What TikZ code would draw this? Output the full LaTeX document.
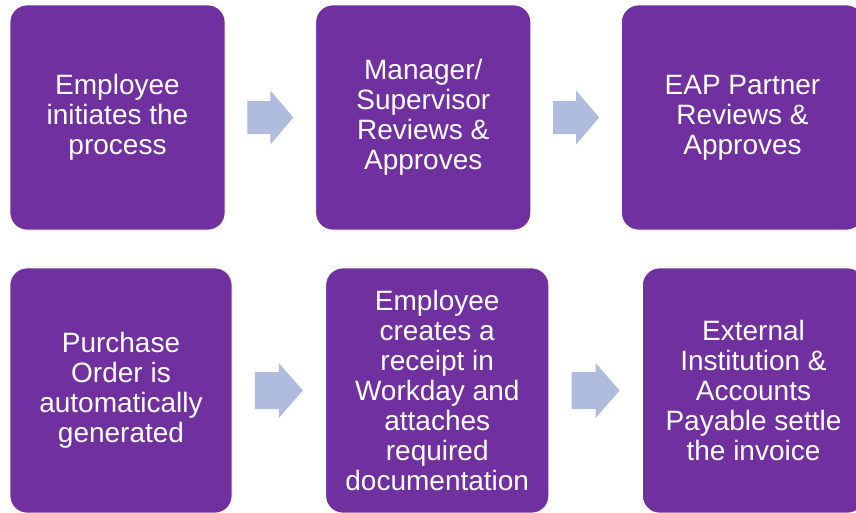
\documentclass[tikz,border=0pt]{standalone}
\usepackage{fontspec}
\setmainfont{Liberation Sans}
\usetikzlibrary{positioning}

\definecolor{stepviolet}{RGB}{112,48,160}
\definecolor{arrowblue}{RGB}{175,188,222}

\tikzset{
  stepbox/.style={rectangle, rounded corners=17pt, fill=stepviolet, draw=white, line width=0.75pt,
    text=white, align=center, inner sep=0pt, font=\fontsize{28}{30}\selectfont},
  pics/steparrow/.style args={#1/#2/#3}{code={
    \fill[arrowblue] (-#1,-#2) -- (0,-#2) -- (0,-#3) -- (#1,0) -- (0,#3) -- (0,#2) -- (-#1,#2) -- cycle;
  }}
}

\begin{document}
\begin{tikzpicture}[
        x=1pt, y=-1pt,
        node distance=90pt,
        top step/.style={stepbox, minimum height=225pt},
        low step/.style={stepbox, minimum height=245pt}
      ]
      \useasboundingbox (0,0) rectangle (856,512);
      \clip (0,0) rectangle (856,512);
      % top row
      \node[top step, minimum width=215pt] (initiate) at (117.5,117.5) {Employee\\initiates the\\process};
      \node[top step, minimum width=215pt, right=of initiate] (manager) {Manager/\\Supervisor\\Reviews \&\\Approves};
      \node[top step, minimum width=242pt, right=of manager] (partner) {EAP Partner\\Reviews \&\\Approves};
      % bottom row
      \node[low step, minimum width=222pt] (order) at (121,390.5) {Purchase\\Order is\\automatically\\generated};
      \node[low step, minimum width=223pt, right=93pt of order] (receipt) {Employee\\creates a\\receipt in\\Workday and\\attaches\\required\\documentation};
      \node[low step, minimum width=222pt, right=93pt of receipt] (settle) {External\\Institution \&\\Accounts\\Payable settle\\the invoice};
      % arrows
      \path (initiate.east) -- (manager.west) coordinate[midway] (a1);
      \path (manager.east) -- (partner.west) coordinate[midway] (a2);
      \path (order.east) -- (receipt.west) coordinate[midway] (a3);
      \path (receipt.east) -- (settle.west) coordinate[midway] (a4);
      \pic at (a1) {steparrow=23/16.5/27};
      \pic at (a2) {steparrow=23/16.5/27};
      \pic at (a3) {steparrow=24/18.5/27.5};
      \pic at (a4) {steparrow=24/18.5/27.5};
\end{tikzpicture}
\end{document}
